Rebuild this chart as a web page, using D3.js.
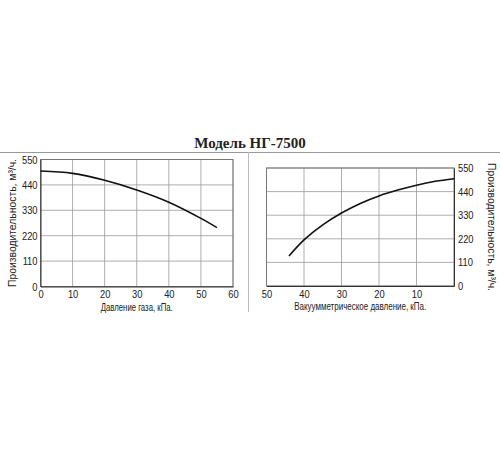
<!DOCTYPE html><html><head><meta charset="utf-8"><script src="https://cdn.jsdelivr.net/npm/d3@7"></script>
<style>body{margin:0;background:#fff}text{font-family:"Liberation Sans",Arial,sans-serif;fill:#222}</style></head><body><svg id="c" width="500" height="450"></svg>
<script>
const title="Модель НГ-7500";
const yTicks=[0,110,220,330,440,550];
const leftXTicks=[0,10,20,30,40,50,60];
const leftX=[0,10,20,30,40,50,55];
const leftY=[500,490,460,418,365,295,255];
const rightXTicks=[50,40,30,20,10];
const rightX=[44,40,35,30,25,20,15,10,5,0];
const rightY=[140,215,285,340,385,420,447,470,488,500];
const yLabel="Производительность, м³/ч.";
const leftXLabel="Давление газа, кПа.";
const rightXLabel="Вакуумметрическое давление, кПа.";

const svg=d3.select("#c");
svg.append("text").attr("x",250).attr("y",148).attr("text-anchor","middle")
 .style("font-family","Liberation Serif,serif").style("font-weight","bold").style("font-size","15px").text(title);
svg.append("line").attr("x1",0).attr("x2",500).attr("y1",152.5).attr("y2",152.5).attr("stroke","#999");
svg.append("line").attr("x1",248.5).attr("x2",248.5).attr("y1",152).attr("y2",312).attr("stroke","#bbb");

function narrow(sel,len){sel.attr("textLength",len).attr("lengthAdjust","spacingAndGlyphs");}
function panel(x,y,xTicks,xs,ys,xl,xlLen,right){
  const g=svg.append("g");
  const [x0,x1]=x.range(),[yb,yt]=y.range();
  xTicks.forEach(t=>g.append("line").attr("x1",x(t)).attr("x2",x(t)).attr("y1",yt).attr("y2",yb).attr("stroke","#999").attr("stroke-width",0.8));
  yTicks.forEach(t=>g.append("line").attr("x1",x0).attr("x2",x1).attr("y1",y(t)).attr("y2",y(t)).attr("stroke","#999").attr("stroke-width",0.8));
  g.append("rect").attr("x",Math.min(x0,x1)).attr("y",yt).attr("width",Math.abs(x1-x0)).attr("height",yb-yt).attr("fill","none").attr("stroke","#777");
  const xa=g.append("g").attr("transform",`translate(0,${yb})`).call(d3.axisBottom(x).tickValues(xTicks).tickSize(0).tickPadding(4));
  const ya=g.append("g").attr("transform",`translate(${right?Math.max(x0,x1):Math.min(x0,x1)},0)`)
    .call((right?d3.axisRight(y):d3.axisLeft(y)).tickValues(yTicks).tickSize(0).tickPadding(right?4:3));
  [xa,ya].forEach(a=>{a.select(".domain").attr("stroke","#333");a.selectAll("text").style("font-size","11px").attr("fill","#222").attr("transform","scale(0.85,1)").attr("x",function(){return +d3.select(this).attr("x")/0.85;});});
  xa.selectAll(".tick text").attr("transform","scale(0.85,1)");
  g.append("path").datum(xs.map((v,i)=>[v,ys[i]])).attr("fill","none").attr("stroke","#111").attr("stroke-width",1.6)
   .attr("d",d3.line().x(d=>x(d[0])).y(d=>y(d[1])).curve(d3.curveCatmullRom));
  g.append("text").attr("x",(x0+x1)/2).attr("y",yb+24).attr("text-anchor","middle").style("font-size","11px").text(xl).call(narrow,xlLen);
  const lx=right?Math.max(x0,x1)+34:Math.min(x0,x1)-25;
  g.append("text").attr("transform",`translate(${lx},${(yt+yb)/2}) rotate(${right?90:-90})`).attr("text-anchor","middle").style("font-size","11px").text(yLabel).call(narrow,128);
}
panel(d3.scaleLinear().domain([0,60]).range([40.5,233]),d3.scaleLinear().domain([0,550]).range([286.5,159.5]),leftXTicks,leftX,leftY,leftXLabel,72,false);
panel(d3.scaleLinear().domain([50,0]).range([266.5,454]),d3.scaleLinear().domain([0,550]).range([286,168]),rightXTicks,rightX,rightY,rightXLabel,132,true);
</script></body></html>
